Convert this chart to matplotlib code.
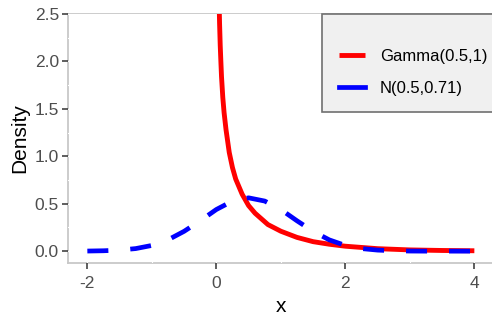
import numpy as np
import matplotlib.pyplot as plt
from matplotlib.ticker import MultipleLocator, FormatStrFormatter

plt.rcParams['font.family'] = ['Liberation Sans', 'DejaVu Sans']
plt.rcParams['axes.unicode_minus'] = False

# -----------------------------
# Data
# -----------------------------
gamma_x = [0.03, 0.04, 0.05, 0.06, 0.07, 0.08, 0.10, 0.12, 0.15, 0.20, 0.25,
           0.30, 0.40, 0.50, 0.60, 0.80, 1.00, 1.25, 1.50, 1.75, 2.00,
           2.50, 3.00, 3.50, 4.00]
gamma_y = [3.10, 2.70, 2.40, 2.17, 2.00, 1.84, 1.62, 1.46, 1.28, 1.04, 0.88,
           0.76, 0.60, 0.48, 0.40, 0.28, 0.21, 0.145, 0.10, 0.073, 0.052,
           0.026, 0.013, 0.007, 0.004]

norm_x = [-2.0, -1.75, -1.5, -1.25, -1.0, -0.75, -0.5, -0.25, 0.0, 0.25,
          0.5, 0.75, 1.0, 1.25, 1.5, 1.75, 2.0, 2.25, 2.5, 2.75, 3.0,
          3.25, 3.5, 3.75, 4.0]
norm_y = [0.001, 0.004, 0.011, 0.027, 0.060, 0.119, 0.209, 0.320, 0.439, 0.528,
          0.562, 0.528, 0.439, 0.320, 0.209, 0.119, 0.060, 0.027, 0.011, 0.004, 0.001,
          0.0, 0.0, 0.0, 0.0]

labels = ["Gamma(0.5,1)", "N(0.5,0.71)"]
colors = ["#ff0000", "#0000ff"]

# -----------------------------
# Plot
# -----------------------------
W, H = 492, 325
fig = plt.figure(figsize=(W / 100, H / 100), dpi=100)
ax = fig.add_axes([68 / W, (H - 263) / H, 425.7 / W, 249 / H])

ax.plot(gamma_x, gamma_y, color=colors[0], lw=3.5, label=labels[0],
        zorder=3, solid_capstyle='butt')
ax.plot(norm_x, norm_y, color=colors[1], lw=3.4, label=labels[1],
        dashes=(4.45, 4.65), dash_capstyle='butt', zorder=4)

ax.set_xlim(-2.3, 4.3)
ax.set_ylim(-0.125, 2.5)
ax.xaxis.set_major_locator(MultipleLocator(2))
ax.xaxis.set_minor_locator(MultipleLocator(1))
ax.yaxis.set_major_locator(MultipleLocator(0.5))
ax.yaxis.set_minor_locator(MultipleLocator(0.25))
ax.yaxis.set_major_formatter(FormatStrFormatter('%.1f'))

for s in ax.spines.values():
    s.set_color('#c8c8c8')
    s.set_linewidth(1.3)
    s.set_zorder(1)
ax.set_axisbelow(False)
ax.grid(which='both', color='white', lw=0.8)

ax.tick_params(which='major', length=4, width=1.1, color='#333333',
               labelcolor='#4d4d4d', labelsize=12.5)
ax.tick_params(axis='x', pad=5.5)
ax.tick_params(axis='y', pad=2.5)
ax.tick_params(which='minor', length=0)

ax.set_xlabel("x", fontsize=15, labelpad=4)
ax.set_ylabel("Density", fontsize=15, labelpad=4)

leg = ax.legend(loc='upper left', bbox_to_anchor=(322 / W, 1 - 14 / H),
                bbox_transform=fig.transFigure, borderaxespad=0,
                fontsize=12, title=" ", title_fontsize=1,
                borderpad=1.0, labelspacing=1.02, handlelength=1.56,
                handletextpad=0.9, fancybox=False, framealpha=1)
leg.get_frame().set_facecolor('#f0f0f0')
leg.get_frame().set_edgecolor('#707070')
leg.get_frame().set_linewidth(1.2)
leg.get_lines()[1].set_linestyle('-')

plt.savefig("out.png", dpi=100)
